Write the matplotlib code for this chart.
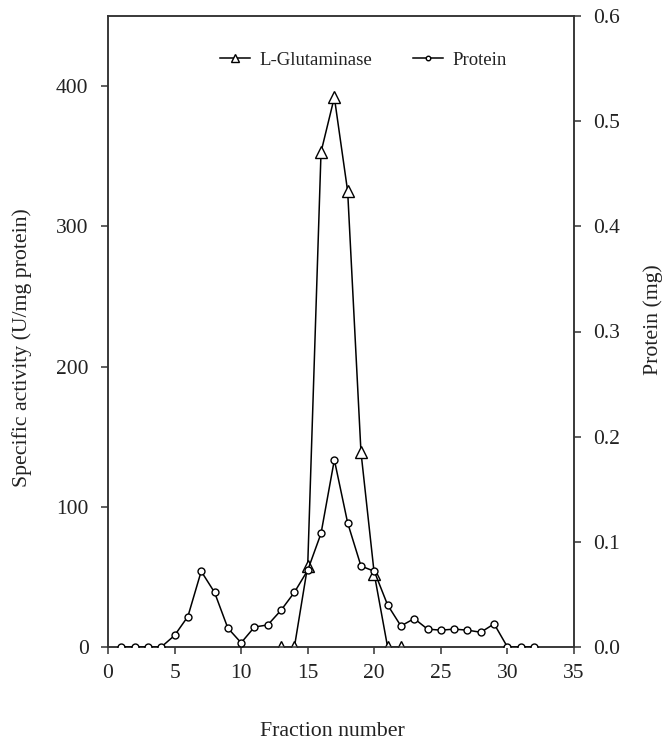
import matplotlib
matplotlib.use("Agg")
import matplotlib.pyplot as plt

plt.rcParams['font.family'] = ['Liberation Serif', 'DejaVu Serif']

# --- DATA ---
glut_fraction = [13, 14, 15, 16, 17, 18, 19, 20, 21, 22]
glut_activity = [0, 0, 58, 353, 392, 325, 139, 52, 0, 0]

protein_fraction = list(range(1, 33))
protein_mg = [0, 0, 0, 0, 0.011, 0.029, 0.072, 0.052, 0.018, 0.004,
              0.019, 0.021, 0.035, 0.052, 0.073, 0.108, 0.178, 0.118,
              0.077, 0.072, 0.040, 0.020, 0.027, 0.017, 0.016, 0.017,
              0.016, 0.014, 0.022, 0, 0, 0]

x_ticks = [0, 5, 10, 15, 20, 25, 30, 35]
left_ticks = [0, 100, 200, 300, 400]
right_ticks = [0.0, 0.1, 0.2, 0.3, 0.4, 0.5, 0.6]

# --- FIGURE ---
W, H = 665, 745
fig = plt.figure(figsize=(W / 100, H / 100), dpi=100)
ax = fig.add_axes([108 / W, 98 / H, 466 / W, 631 / H])
ax2 = ax.twinx()

spine_col = "#333333"
text_col = "#222222"

l1, = ax.plot(glut_fraction, glut_activity, color="black", lw=1.1,
              marker="^", markersize=8, markerfacecolor="white",
              markeredgecolor="black", markeredgewidth=1.0,
              label="L-Glutaminase", zorder=3)
l2, = ax2.plot(protein_fraction, protein_mg, color="black", lw=1.1,
               marker="o", markersize=5, markerfacecolor="white",
               markeredgecolor="black", markeredgewidth=1.0,
               label="Protein", zorder=3)

ax.set_xlim(0, 35)
ax.set_ylim(0, 450)
ax2.set_ylim(0, 0.6)
ax.set_xticks(x_ticks)
ax.set_yticks(left_ticks)
ax2.set_yticks(right_ticks)
ax2.set_yticklabels([f"{v:.1f}" for v in right_ticks])

for a in (ax, ax2):
    for s in a.spines.values():
        s.set_color(spine_col)
        s.set_linewidth(1.1)
    a.tick_params(direction="out", length=5, width=1.1, colors=spine_col,
                  labelcolor=text_col, labelsize=15.5, pad=9)
ax.tick_params(axis="x", pad=7)

# axis titles placed in figure pixels
fig.text(332 / W, 1 - 731 / H, "Fraction number", fontsize=15.7,
         color=text_col, ha="center", va="center")
fig.text(22 / W, 1 - 348 / H, "Specific activity (U/mg protein)",
         fontsize=15.7, color=text_col, ha="center", va="center",
         rotation=90)
fig.text(653 / W, 1 - 320 / H, "Protein (mg)", fontsize=15.7,
         color=text_col, ha="center", va="center", rotation=90)

leg = ax.legend(handles=[l1, l2], loc="center",
                bbox_to_anchor=(0.548, 0.930), ncol=2, frameon=False,
                fontsize=13.5, markerscale=0.65, handlelength=1.6,
                handletextpad=0.5, columnspacing=2.2)
for t in leg.get_texts():
    t.set_color(text_col)

fig.savefig("out.png", dpi=100)
